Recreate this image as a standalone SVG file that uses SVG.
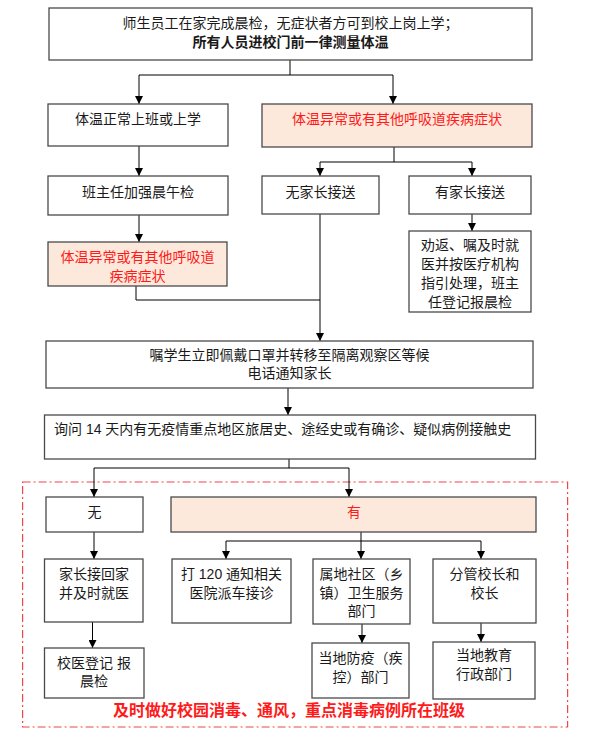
<svg xmlns="http://www.w3.org/2000/svg" width="589" height="738" viewBox="0 0 589 738">
<style>
.box{fill:#fff;stroke:#4a4a4a;stroke-width:1.3}
.hot{fill:#fde9dc;stroke:#4a4a4a;stroke-width:1.3}
text{font-family:"Liberation Sans","Noto Sans CJK SC",sans-serif;font-size:14px;fill:#1a1a1a;text-anchor:middle;dominant-baseline:central}
.red{fill:#ff1a1a}
.b{font-weight:bold}
.ln{fill:none;stroke:#000;stroke-width:1}
</style>
<defs>
<marker id="ah" markerUnits="userSpaceOnUse" markerWidth="8" markerHeight="8" refX="8" refY="4" orient="auto">
<path d="M0,0 L8,4 L0,8 z" fill="#000"/>
</marker>
</defs>
<rect x="22.6" y="482" width="545" height="245" fill="none" stroke="#f04545" stroke-width="1.2" stroke-dasharray="8 3 2 3"/>
<g id="connectors">
<path class="ln" d="M290 60 V75 M139 75 H393"/>
<path class="ln" d="M139 75 V104" marker-end="url(#ah)"/>
<path class="ln" d="M393 75 V104" marker-end="url(#ah)"/>
<path class="ln" d="M139 146 V176" marker-end="url(#ah)"/>
<path class="ln" d="M394 147 V162 M320 162 H472"/>
<path class="ln" d="M320 162 V176" marker-end="url(#ah)"/>
<path class="ln" d="M472 162 V176" marker-end="url(#ah)"/>
<path class="ln" d="M139 215 V242" marker-end="url(#ah)"/>
<path class="ln" d="M472 214 V231" marker-end="url(#ah)"/>
<path class="ln" d="M136 286 V300 H320"/>
<path class="ln" d="M320 214 V341" marker-end="url(#ah)"/>
<path class="ln" d="M288 388 V415" marker-end="url(#ah)"/>
<path class="ln" d="M289 459 V468 M94 468 H349"/>
<path class="ln" d="M94 468 V497" marker-end="url(#ah)"/>
<path class="ln" d="M349 468 V497" marker-end="url(#ah)"/>
<path class="ln" d="M94 532 V559" marker-end="url(#ah)"/>
<path class="ln" d="M361 532 V541 M226 541 H481"/>
<path class="ln" d="M226 541 V559" marker-end="url(#ah)"/>
<path class="ln" d="M361 541 V559" marker-end="url(#ah)"/>
<path class="ln" d="M481 541 V559" marker-end="url(#ah)"/>
<path class="ln" d="M92.5 622 V648" marker-end="url(#ah)"/>
<path class="ln" d="M362 624 V643" marker-end="url(#ah)"/>
<path class="ln" d="M481 623 V642" marker-end="url(#ah)"/>
</g>
<g id="n-top">
<rect class="box" x="49" y="8" width="483" height="52"/>
<text x="290.5" y="23">师生员工在家完成晨检，无症状者方可到校上岗上学；</text>
<text class="b" x="290.5" y="42">所有人员进校门前一律测量体温</text>
</g>
<g id="n-normal">
<rect class="box" x="48" y="104" width="180" height="42"/>
<text x="138" y="119">体温正常上班或上学</text>
</g>
<g id="n-abnormal">
<rect class="hot" x="262" y="104" width="270" height="43"/>
<text class="red" x="397" y="119">体温异常或有其他呼吸道疾病症状</text>
</g>
<g id="n-check">
<rect class="box" x="48" y="176" width="180" height="39"/>
<text x="138" y="192">班主任加强晨午检</text>
</g>
<g id="n-noparent">
<rect class="box" x="262" y="176" width="117" height="38"/>
<text x="320.5" y="192">无家长接送</text>
</g>
<g id="n-parent">
<rect class="box" x="409" y="176" width="122" height="38"/>
<text x="470" y="192">有家长接送</text>
</g>
<g id="n-abnormal2">
<rect class="hot" x="48" y="242" width="179" height="44"/>
<text class="red" x="137.5" y="257">体温异常或有其他呼吸道</text>
<text class="red" x="137.5" y="276">疾病症状</text>
</g>
<g id="n-return">
<rect class="box" x="409" y="231" width="122" height="81"/>
<text x="470" y="245">劝返、嘱及时就</text>
<text x="470" y="264">医并按医疗机构</text>
<text x="470" y="283">指引处理，班主</text>
<text x="470" y="302">任登记报晨检</text>
</g>
<g id="n-isolate">
<rect class="box" x="46" y="341" width="487" height="47"/>
<text x="289.5" y="355">嘱学生立即佩戴口罩并转移至隔离观察区等候</text>
<text x="289.5" y="373">电话通知家长</text>
</g>
<g id="n-ask">
<rect class="box" x="44.5" y="415" width="491" height="44"/>
<text x="54" y="429" style="text-anchor:start">询问 14 天内有无疫情重点地区旅居史、途经史或有确诊、疑似病例接触史</text>
</g>
<g id="n-no">
<rect class="box" x="46" y="497" width="97" height="35"/>
<text x="94.5" y="512">无</text>
</g>
<g id="n-yes">
<rect class="hot" x="171" y="497" width="365" height="35"/>
<text class="red" x="354" y="512">有</text>
</g>
<g id="n-home">
<rect class="box" x="44.5" y="559" width="98.5" height="63"/>
<text x="94" y="574">家长接回家</text>
<text x="94" y="593">并及时就医</text>
</g>
<g id="n-120">
<rect class="box" x="172" y="559" width="119" height="64"/>
<text x="231.5" y="574">打 120 通知相关</text>
<text x="231.5" y="593">医院派车接诊</text>
</g>
<g id="n-community">
<rect class="box" x="313" y="559" width="97" height="65"/>
<text x="361.5" y="574">属地社区（乡</text>
<text x="361.5" y="592.5">镇）卫生服务</text>
<text x="361.5" y="611">部门</text>
</g>
<g id="n-principal">
<rect class="box" x="433" y="559" width="103" height="64"/>
<text x="484.5" y="574">分管校长和</text>
<text x="484.5" y="593">校长</text>
</g>
<g id="n-doctor">
<rect class="box" x="44.5" y="648" width="99.5" height="50"/>
<text x="94" y="663">校医登记 报</text>
<text x="94" y="681">晨检</text>
</g>
<g id="n-cdc">
<rect class="box" x="312" y="643" width="97" height="55"/>
<text x="360.5" y="658">当地防疫（疾</text>
<text x="360.5" y="677">控）部门</text>
</g>
<g id="n-edu">
<rect class="box" x="433" y="642" width="102" height="57"/>
<text x="484" y="655">当地教育</text>
<text x="484" y="674">行政部门</text>
</g>
<g id="n-note">
<text class="red b" x="289" y="710" style="font-size:16px">及时做好校园消毒、通风，重点消毒病例所在班级</text>
</g>
</svg>
